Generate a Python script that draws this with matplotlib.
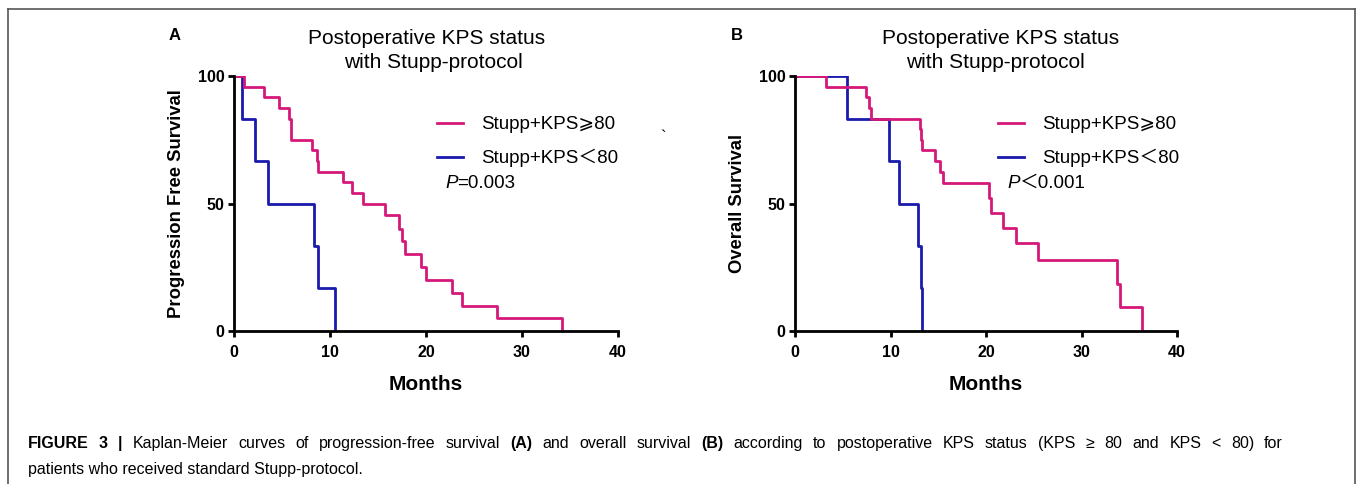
import matplotlib
matplotlib.use('Agg')
import matplotlib.pyplot as plt
from matplotlib.lines import Line2D

plt.rcParams['font.family'] = ['Liberation Sans', 'Noto Sans CJK SC', 'DejaVu Sans']

W, H = 1357, 484
PINK = '#d6187a'
BLUE = '#1a1aad'

# Panel A: progression free survival
pfs_hi_t = [0, 1.0, 3.15, 4.7, 5.7, 5.9, 8.15, 8.65, 8.8, 11.4, 12.3, 13.4,
            15.7, 17.2, 17.5, 17.8, 19.5, 20.0, 22.7, 23.7, 27.4, 34.2]
pfs_hi_s = [100, 95.8, 91.7, 87.5, 83.3, 75.0, 70.8, 66.7, 62.5, 58.3, 54.2, 50.0,
            45.3, 40.0, 35.1, 30.1, 25.0, 20.0, 15.0, 10.0, 5.0, 0]
pfs_lo_t = [0, 0.8, 2.2, 3.57, 8.3, 8.8, 10.55]
pfs_lo_s = [100, 83.3, 66.7, 50.0, 33.3, 16.7, 0]

# Panel B: overall survival
os_hi_t = [0, 3.2, 7.43, 7.75, 7.96, 13.09, 13.2, 13.33, 14.66, 15.18, 15.46,
           20.35, 20.5, 21.8, 23.14, 25.48, 33.68, 34.03, 36.3]
os_hi_s = [100, 95.8, 91.7, 87.5, 83.3, 79.2, 75.0, 70.8, 66.7, 62.5, 57.9,
           52.2, 46.3, 40.5, 34.7, 27.8, 18.5, 9.3, 0]
os_lo_t = [0, 5.48, 9.88, 10.9, 12.84, 13.16, 13.26]
os_lo_s = [100, 83.3, 66.7, 50.0, 33.3, 16.7, 0]

labels = ['Stupp+KPS\u2a7e80', 'Stupp+KPS\uff1c80']
x_ticks = [0, 10, 20, 30, 40]
y_ticks = [0, 50, 100]

caption1 = [('FIGURE 3 |', 'bold'),
            ('Kaplan-Meier curves of progression-free survival', 'normal'),
            ('(A)', 'bold'), ('and overall survival', 'normal'), ('(B)', 'bold'),
            ('according to postoperative KPS status (KPS \u2265 80 and KPS < 80) for', 'normal')]
caption2 = 'patients who received standard Stupp-protocol.'


def fx(x):
    return x / W


def fy(y):
    return 1 - y / H


fig = plt.figure(figsize=(W / 100, H / 100), dpi=100)


def km_panel(left_px, right_px, hi_t, hi_s, lo_t, lo_s, ylabel, ylab_right, letter, letter_x,
             title_x1, title_x2, leg_x, p_x, p_rest):
    ax = fig.add_axes([fx(left_px), fy(331), (right_px - left_px) / W, 255 / H])
    lo, = ax.step(lo_t, lo_s, where='post', color=BLUE, lw=2)
    hi, = ax.step(hi_t, hi_s, where='post', color=PINK, lw=2)
    ax.set_xlim(0, 40)
    ax.set_ylim(0, 100)
    ax.set_xticks(x_ticks)
    ax.set_yticks(y_ticks)
    for s in ['top', 'right']:
        ax.spines[s].set_visible(False)
    for s in ['left', 'bottom']:
        ax.spines[s].set_linewidth(2)
    ax.tick_params(direction='out', length=4.3, width=2, labelsize=11.5)
    ax.tick_params(axis='y', pad=2.5)
    ax.tick_params(axis='x', pad=6)
    plt.setp(ax.get_xticklabels() + ax.get_yticklabels(), fontweight='bold')
    ax.set_xlabel('Months', fontsize=15, fontweight='bold')
    ax.xaxis.set_label_coords(0.5, -0.172)
    ax.set_ylabel(ylabel, fontsize=13.3, fontweight='bold')
    ax.yaxis.set_label_coords((ylab_right - left_px) / (right_px - left_px), 0.5)

    ax.legend([hi, lo], labels, loc='upper left', frameon=False,
              bbox_to_anchor=(fx(leg_x), fy(116)), bbox_transform=fig.transFigure,
              borderpad=0, borderaxespad=0, fontsize=13.5, handlelength=1.4,
              handletextpad=0.95, labelspacing=0.85)

    p = fig.text(fx(p_x), fy(183), 'P', style='italic', fontsize=13.5,
                 ha='left', va='center')
    ax.annotate(p_rest, xy=(1, 0), xycoords=p, ha='left', va='bottom', fontsize=13.5,
                annotation_clip=False)

    fig.text(fx(letter_x), fy(36), letter, fontsize=12, fontweight='bold',
             ha='center', va='center')
    fig.text(fx(title_x1), fy(38), 'Postoperative KPS status', fontsize=15,
             ha='center', va='center')
    fig.text(fx(title_x2), fy(62), 'with Stupp-protocol', fontsize=15,
             ha='center', va='center')
    return ax


km_panel(234, 618, pfs_hi_t, pfs_hi_s, pfs_lo_t, pfs_lo_s, 'Progression Free Survival',
         185, 'A', 175, 427, 433, 437, 445, '=0.003')
km_panel(795, 1177, os_hi_t, os_hi_s, os_lo_t, os_lo_s, 'Overall Survival',
         746, 'B', 737, 1001, 995, 998, 1007, '\uff1c0.001')

# stray mark in the source figure
fig.text(fx(663), fy(137), '`', fontsize=12, ha='center', va='center')

# frame around the figure
frame = dict(color='#555555', lw=1.2, transform=fig.transFigure)
fig.add_artist(Line2D([fx(8), fx(1355)], [fy(9), fy(9)], **frame))
fig.add_artist(Line2D([fx(8), fx(8)], [fy(9), 0], **frame))
fig.add_artist(Line2D([fx(1355), fx(1355)], [fy(9), 0], **frame))

# caption, first line justified (word by word), second line left aligned
cap_size = 11.5
renderer = fig.canvas.get_renderer()
words = [(w, wt) for txt, wt in caption1 for w in txt.split()]
widths = []
for w, wt in words:
    t = fig.text(0, 0, w, fontsize=cap_size, fontweight=wt)
    widths.append(t.get_window_extent(renderer).width)
    t.remove()
gap = (1283 - 28 - sum(widths)) / (len(words) - 1)
x = 28
for (w, wt), wd in zip(words, widths):
    fig.text(fx(x), fy(448), w, fontsize=cap_size, fontweight=wt,
             ha='left', va='baseline')
    x += wd + gap
fig.text(fx(28), fy(474), caption2, fontsize=cap_size, ha='left', va='baseline')

fig.savefig('out.png', dpi=100)
